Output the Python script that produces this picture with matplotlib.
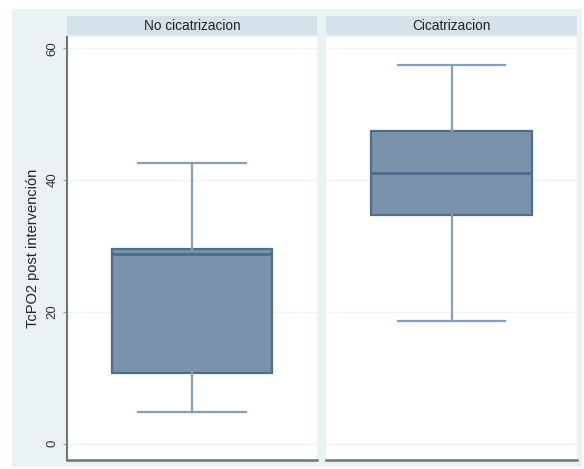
import matplotlib
matplotlib.use("Agg")
import matplotlib.pyplot as plt
from matplotlib.patches import Rectangle

# Grouped summary of TcPO2 after intervention
groups = ["No cicatrizacion", "Cicatrizacion"]
whisker_low = [4.8, 18.6]
q1 = [10.7, 34.7]
median = [28.7, 41.0]
q3 = [29.5, 47.4]
whisker_high = [42.6, 57.4]
yticks = [0, 20, 40, 60]
ylabel = "TcPO2 post intervención"

plt.rcParams["font.family"] = ["Liberation Sans", "DejaVu Sans"]

W, H = 584, 469
fig = plt.figure(figsize=(W / 100, H / 100), dpi=100)
fig.patch.set_facecolor("white")

def fx(px):
    return px / W

def fy(py):
    return 1 - py / H

bg = "#EAF2F3"
strip_col = "#D6E2EA"
fill_col = "#7A93AB"
edge_col = "#4E6E8E"
whisk_col = "#889FB7"
axis_col = "#6F7675"

# outer graph region
fig.add_artist(Rectangle((fx(12), fy(467)), fx(582) - fx(12), fy(9) - fy(467),
                         transform=fig.transFigure, facecolor=bg, edgecolor="none", zorder=0))

panels = [(67, 317), (326, 577)]
top_px, bot_px = 37, 460
ymin, ymax = -2.5, 61.7

for i, (x0, x1) in enumerate(panels):
    ax = fig.add_axes([fx(x0), fy(bot_px), fx(x1) - fx(x0), fy(top_px) - fy(bot_px)])
    ax.set_facecolor("white")
    ax.set_ylim(ymin, ymax)
    ax.set_xlim(-0.78, 0.78)
    for t in yticks:
        ax.axhline(t, color="#EEF3F4", lw=1.0, zorder=0)
    stats = [dict(med=median[i], q1=q1[i], q3=q3[i], whislo=whisker_low[i],
                  whishi=whisker_high[i], fliers=[])]
    ax.bxp(stats, positions=[0], widths=1.0, patch_artist=True, showfliers=False,
           boxprops=dict(facecolor=fill_col, edgecolor=edge_col, linewidth=1.6),
           medianprops=dict(color=edge_col, linewidth=2.2),
           whiskerprops=dict(color=whisk_col, linewidth=1.6),
           capprops=dict(color=whisk_col, linewidth=1.6),
           capwidths=0.67)
    ax.set_xticks([])
    for s in ["top", "right"]:
        ax.spines[s].set_visible(False)
    ax.spines["bottom"].set_color(axis_col)
    ax.spines["bottom"].set_linewidth(1.8)
    if i == 0:
        ax.spines["left"].set_color(axis_col)
        ax.spines["left"].set_linewidth(1.5)
        ax.set_yticks(yticks)
        ax.set_yticklabels([str(t) for t in yticks], rotation=90, va="center",
                           fontsize=9.5, color="#333333")
        ax.tick_params(axis="y", length=3, width=0.8, color="#9AA0A0", pad=3)
        ax.set_ylabel(ylabel, fontsize=10.5, color="#222222", labelpad=5)
    else:
        ax.spines["left"].set_visible(False)
        ax.set_yticks([])
    # strip title
    fig.add_artist(Rectangle((fx(x0), fy(35)), fx(x1) - fx(x0), fy(16) - fy(35),
                             transform=fig.transFigure, facecolor=strip_col,
                             edgecolor="none", zorder=1))
    fig.text((fx(x0) + fx(x1)) / 2, (fy(35) + fy(16)) / 2, groups[i],
             ha="center", va="center", fontsize=9.8, color="#222222", zorder=2)

fig.savefig("out.png", dpi=100, facecolor="white")
